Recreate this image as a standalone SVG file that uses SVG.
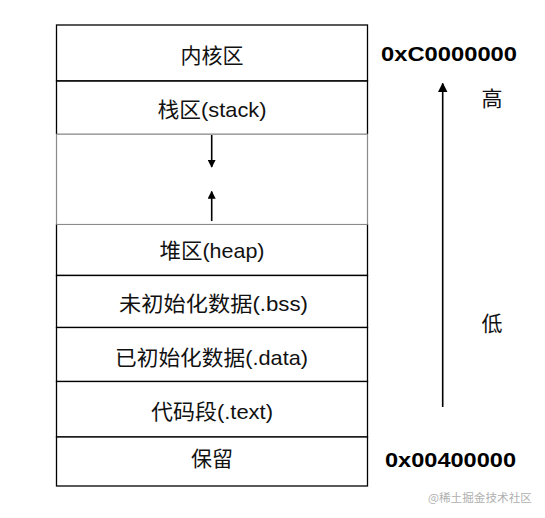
<svg xmlns="http://www.w3.org/2000/svg" width="545" height="518" viewBox="0 0 545 518">
<style>
.box{fill:#fff;stroke:#000;stroke-width:1.3}
.gray{fill:#fff;stroke:#8a8a8a;stroke-width:1.2}
.lbl{font-family:"Liberation Sans","Noto Sans CJK SC",sans-serif;font-size:21px;fill:#111;text-anchor:middle}
.addr{font-family:"Liberation Sans","Noto Sans CJK SC",sans-serif;font-size:21px;font-weight:bold;fill:#000}
.cn{font-family:"Noto Sans CJK SC",sans-serif;font-size:21px;fill:#111;text-anchor:middle}
.wm{font-family:"Noto Sans CJK SC",sans-serif;font-size:11.5px;fill:#b0b0b0}
.ln{stroke:#000;stroke-width:1.6;fill:none}
</style>
<defs>
<marker id="ah" viewBox="0 0 10 10" refX="9" refY="5" markerWidth="5" markerHeight="5" orient="auto" markerUnits="strokeWidth">
<path d="M0,0 L10,5 L0,10 z" fill="#000"/>
</marker>
<marker id="ahb" viewBox="0 0 10 10" refX="9" refY="5" markerWidth="6" markerHeight="6" orient="auto" markerUnits="strokeWidth">
<path d="M0,0 L10,5 L0,10 z" fill="#000"/>
</marker>
</defs>
<rect width="545" height="518" fill="#fff"/>
<g id="gap"><rect class="gray" x="56.5" y="134" width="311" height="90.5"/></g>
<g id="kernel"><rect class="box" x="56.5" y="25" width="311" height="56"/><text class="lbl" x="212" y="63">内核区</text></g>
<g id="stack"><path class="box" d="M56.5,134 V81 H367.5 V134" /><line x1="56.5" y1="134" x2="367.5" y2="134" stroke="#8a8a8a" stroke-width="1.2"/><text class="lbl" x="212" y="117" textLength="109" lengthAdjust="spacingAndGlyphs">栈区(stack)</text></g>
<g id="heap"><path class="box" d="M56.5,224.5 V275.5 H367.5 V224.5"/><line x1="56.5" y1="224.5" x2="367.5" y2="224.5" stroke="#8a8a8a" stroke-width="1.2"/><text class="lbl" x="212" y="258" textLength="105" lengthAdjust="spacingAndGlyphs">堆区(heap)</text></g>
<g id="bss"><rect class="box" x="56.5" y="275.5" width="311" height="52"/><text class="lbl" x="213.5" y="311" textLength="189" lengthAdjust="spacingAndGlyphs">未初始化数据(.bss)</text></g>
<g id="data"><rect class="box" x="56.5" y="327.5" width="311" height="54"/><text class="lbl" x="211.5" y="365" textLength="193" lengthAdjust="spacingAndGlyphs">已初始化数据(.data)</text></g>
<g id="text"><rect class="box" x="56.5" y="381.5" width="311" height="55.5"/><text class="lbl" x="212" y="419" textLength="122" lengthAdjust="spacingAndGlyphs">代码段(.text)</text></g>
<g id="reserved"><rect class="box" x="56.5" y="437" width="311" height="49"/><text class="lbl" x="212" y="466">保留</text></g>
<g id="connectors">
<line class="ln" x1="211.7" y1="135" x2="211.7" y2="167" marker-end="url(#ah)"/>
<line class="ln" x1="211.7" y1="221" x2="211.7" y2="191.5" marker-end="url(#ah)"/>
<line class="ln" x1="442.7" y1="407" x2="442.7" y2="83.5" marker-end="url(#ahb)"/>
</g>
<g id="labels">
<text class="addr" x="381" y="61" textLength="136" lengthAdjust="spacingAndGlyphs">0xC0000000</text>
<text class="addr" x="385" y="467" textLength="131" lengthAdjust="spacingAndGlyphs">0x00400000</text>
<text class="cn" x="492" y="106">高</text>
<text class="cn" x="492" y="331">低</text>
<text class="wm" x="428" y="502" textLength="104" lengthAdjust="spacingAndGlyphs">@稀土掘金技术社区</text>
</g>
</svg>
